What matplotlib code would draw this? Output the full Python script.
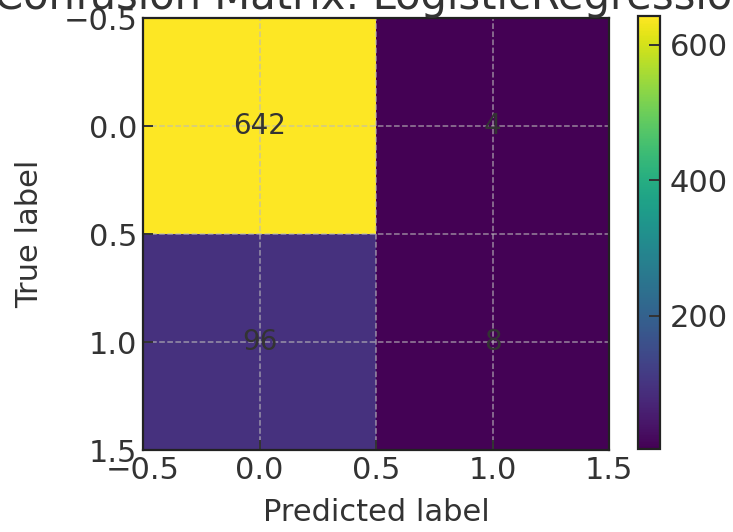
import numpy as np
import matplotlib
matplotlib.use("Agg")
import matplotlib.pyplot as plt

# confusion matrix counts (rows: true, cols: predicted)
model_name = "LogisticRegression"
cm = np.array([[642, 4],
               [96, 8]])

txt = "#333333"
plt.rcParams.update({
    "font.size": 22,
    "text.color": txt,
    "axes.labelcolor": txt,
    "xtick.color": txt,
    "ytick.color": txt,
    "axes.edgecolor": "#222222",
    "axes.linewidth": 1.6,
    "xtick.direction": "in",
    "ytick.direction": "in",
    "xtick.major.size": 7,
    "ytick.major.size": 7,
    "xtick.major.width": 1.4,
    "ytick.major.width": 1.4,
})

W, H = 733, 532
fig = plt.figure(figsize=(W / 100, H / 100), dpi=100)
ax = fig.add_axes([143 / W, 1 - 450 / H, (609 - 143) / W, (450 - 18) / H])
cax = fig.add_axes([638 / W, 1 - 449 / H, (660 - 638) / W, (449 - 16) / H])

im = ax.imshow(cm, cmap="viridis", aspect="auto", interpolation="nearest")
for i in range(cm.shape[0]):
    for j in range(cm.shape[1]):
        ax.text(j, i, str(cm[i, j]), ha="center", va="center", color=txt, fontsize=20)

ax.set_xticks([-0.5, 0.0, 0.5, 1.0, 1.5])
ax.set_yticks([-0.5, 0.0, 0.5, 1.0, 1.5])
ax.set_xlim(-0.5, 1.5)
ax.set_ylim(1.5, -0.5)
ax.tick_params(pad=4)
ax.grid(True, linestyle="--", color="#bbbbbb", alpha=0.7, linewidth=1.1)
ax.set_xlabel("Predicted label", labelpad=10)
ax.set_ylabel("True label", labelpad=14)

cb = fig.colorbar(im, cax=cax)
cb.set_ticks([200, 400, 600])
cb.outline.set_linewidth(1.6)
cb.outline.set_edgecolor("#222222")
cax.tick_params(direction="in", length=8, width=1.4, colors=txt, pad=7)

fig.text(376 / W, 1 - 9 / H, f"Confusion Matrix: {model_name}", ha="center",
         va="baseline", fontsize=30, color=txt)

fig.savefig("out.png", dpi=100)
